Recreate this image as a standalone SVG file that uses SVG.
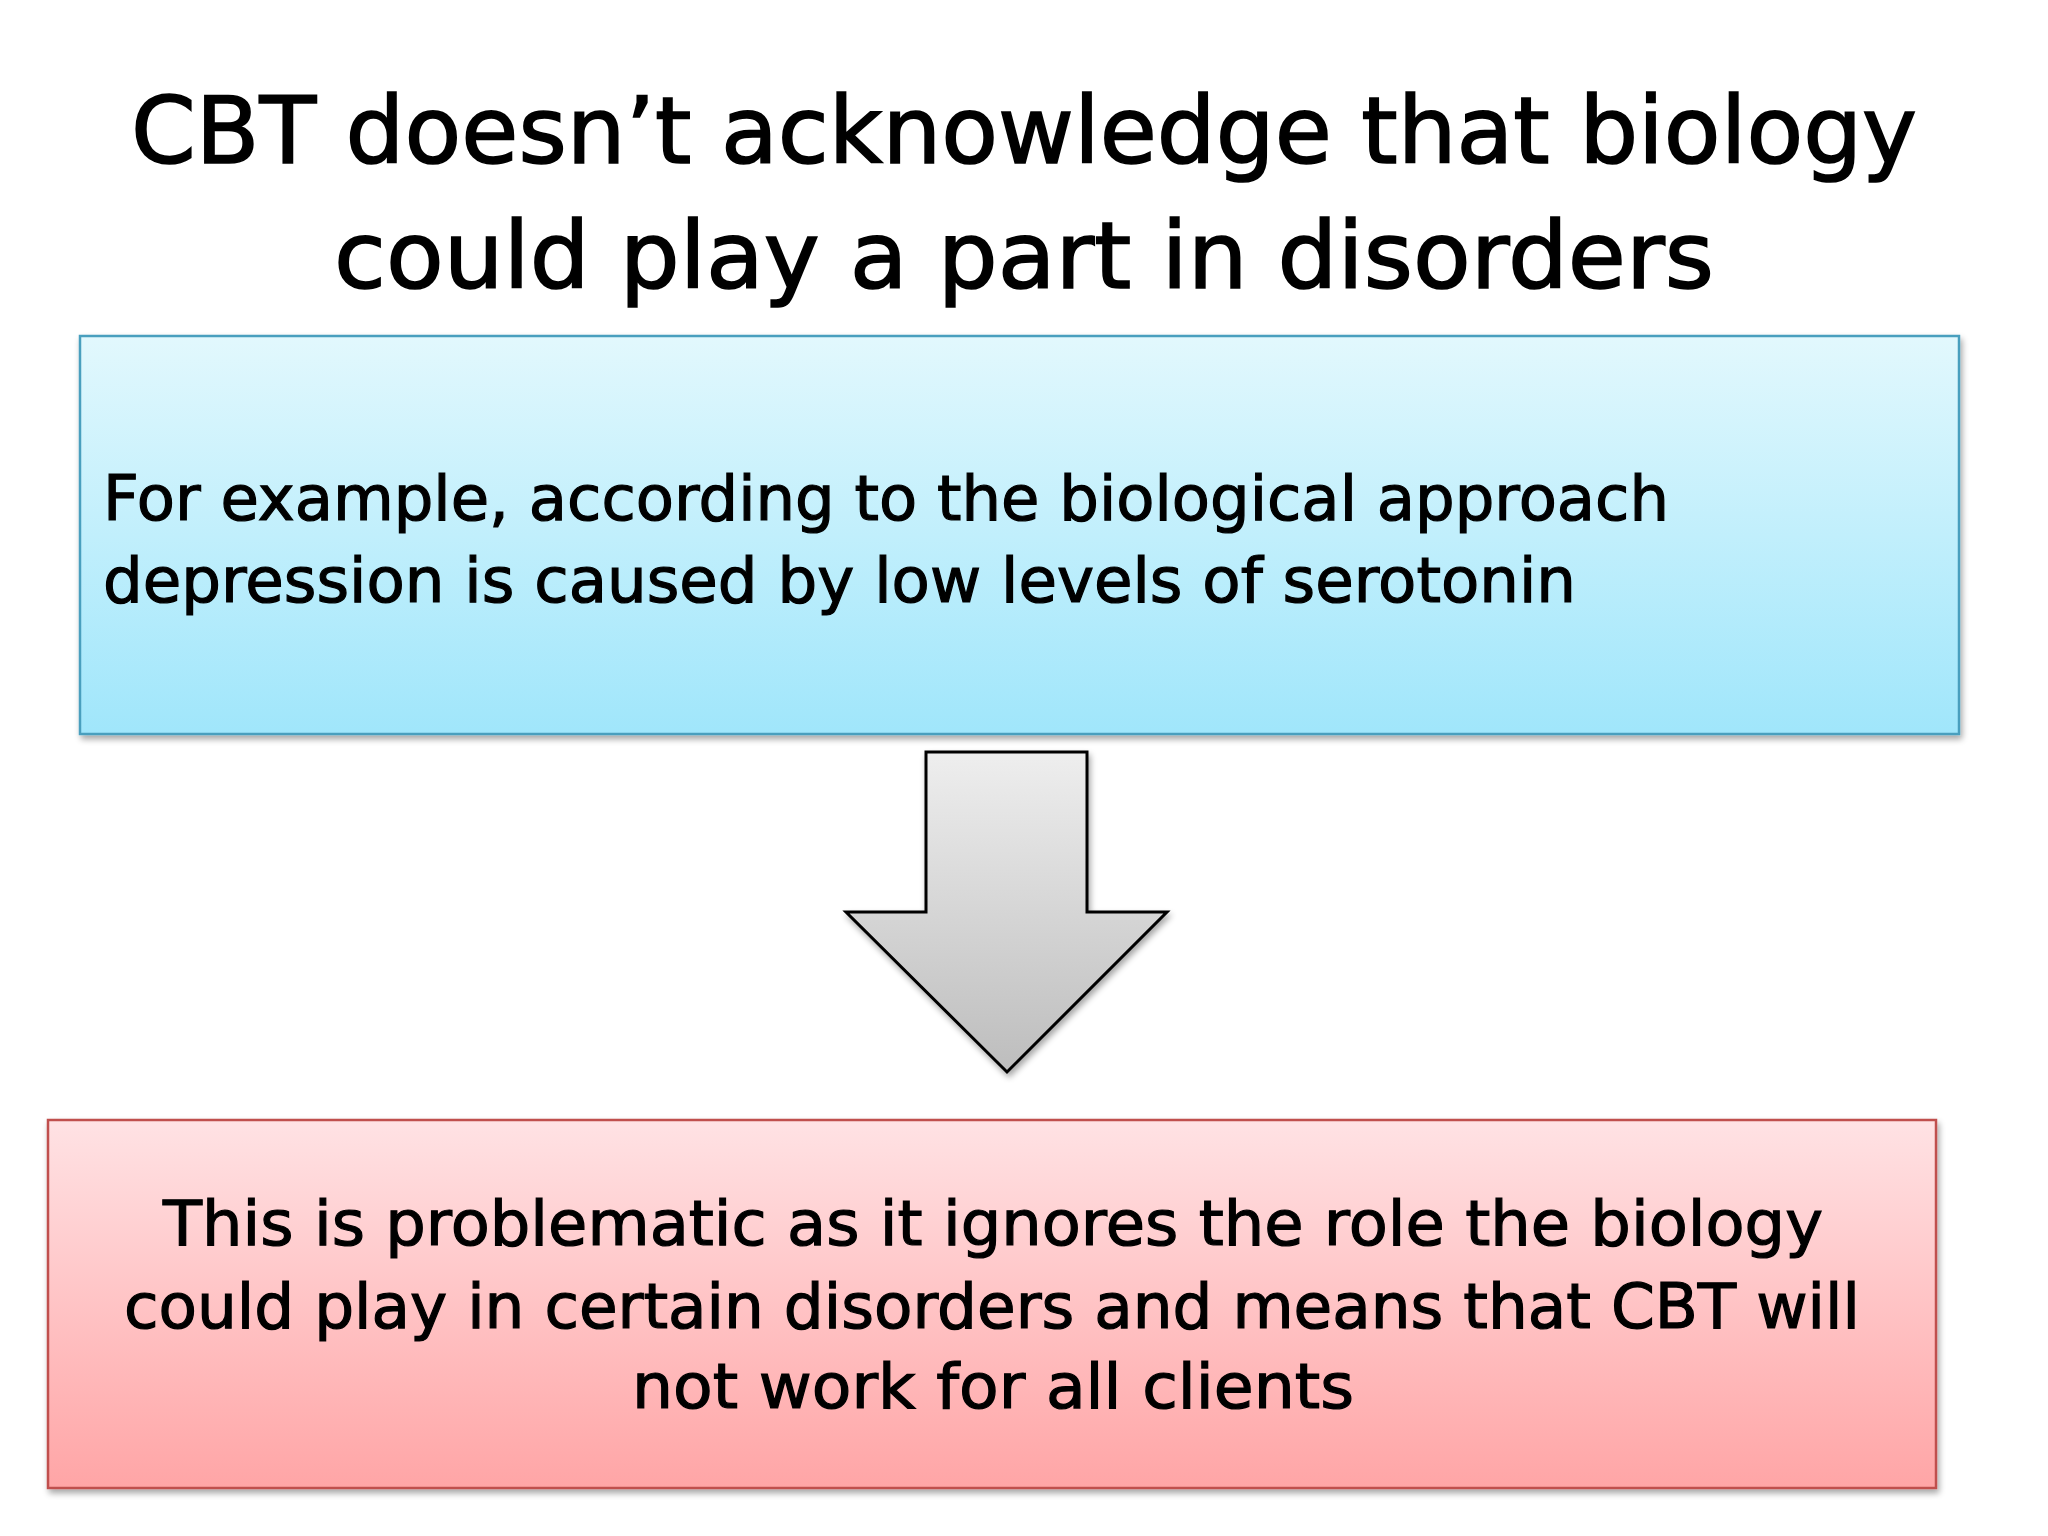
<svg xmlns="http://www.w3.org/2000/svg" width="2048" height="1536" viewBox="0 0 2048 1536">
  <defs>
    <linearGradient id="gBlue" x1="0" y1="0" x2="0" y2="1">
      <stop offset="0" stop-color="#E2F8FD"/>
      <stop offset="1" stop-color="#A0E6FB"/>
    </linearGradient>
    <linearGradient id="gRed" x1="0" y1="0" x2="0" y2="1">
      <stop offset="0" stop-color="#FFE2E4"/>
      <stop offset="1" stop-color="#FFA5A6"/>
    </linearGradient>
    <linearGradient id="gGray" x1="0" y1="0" x2="0" y2="1">
      <stop offset="0" stop-color="#EEEEEE"/>
      <stop offset="1" stop-color="#BDBDBD"/>
    </linearGradient>
    <filter id="shadow" x="-5%" y="-5%" width="110%" height="115%">
      <feGaussianBlur in="SourceAlpha" stdDeviation="3"/>
      <feOffset dx="2" dy="4" result="b"/>
      <feComponentTransfer><feFuncA type="linear" slope="0.35"/></feComponentTransfer>
      <feMerge><feMergeNode/><feMergeNode in="SourceGraphic"/></feMerge>
    </filter>
  </defs>
  <style>
    text { font-family: "DejaVu Sans", "Noto Sans", sans-serif; fill: #000; stroke: #000; }
    .title { font-size: 92px; stroke-width: 1.6px; }
    .body { font-size: 62px; stroke-width: 1.2px; }
  </style>
  <rect width="2048" height="1536" fill="#FFFFFF"/>
  <g id="title">
    <text class="title" x="131" y="163" textLength="1786" lengthAdjust="spacingAndGlyphs">CBT doesn’t acknowledge that biology</text>
    <text class="title" x="334" y="288" textLength="1380" lengthAdjust="spacingAndGlyphs">could play a part in disorders</text>
  </g>
  <g id="node-example">
    <rect x="80" y="336" width="1879" height="398" fill="url(#gBlue)" stroke="#4A9FBE" stroke-width="2.5" filter="url(#shadow)"/>
    <text class="body" x="103" y="520" textLength="1566" lengthAdjust="spacingAndGlyphs">For example, according to the biological approach</text>
    <text class="body" x="103" y="602" textLength="1473" lengthAdjust="spacingAndGlyphs">depression is caused by low levels of serotonin</text>
  </g>
  <g id="connectors">
    <polygon points="926,752 1087,752 1087,912 1167,912 1007,1072 846,912 926,912" fill="url(#gGray)" stroke="#000" stroke-width="3" stroke-linejoin="miter" filter="url(#shadow)"/>
  </g>
  <g id="node-problem">
    <rect x="48" y="1120" width="1888" height="368" fill="url(#gRed)" stroke="#C0504D" stroke-width="2.5" filter="url(#shadow)"/>
    <text class="body" x="163" y="1245" textLength="1660" lengthAdjust="spacingAndGlyphs">This is problematic as it ignores the role the biology</text>
    <text class="body" x="124" y="1328" textLength="1736" lengthAdjust="spacingAndGlyphs">could play in certain disorders and means that CBT will</text>
    <text class="body" x="632" y="1408" textLength="722" lengthAdjust="spacingAndGlyphs">not work for all clients</text>
  </g>
</svg>
